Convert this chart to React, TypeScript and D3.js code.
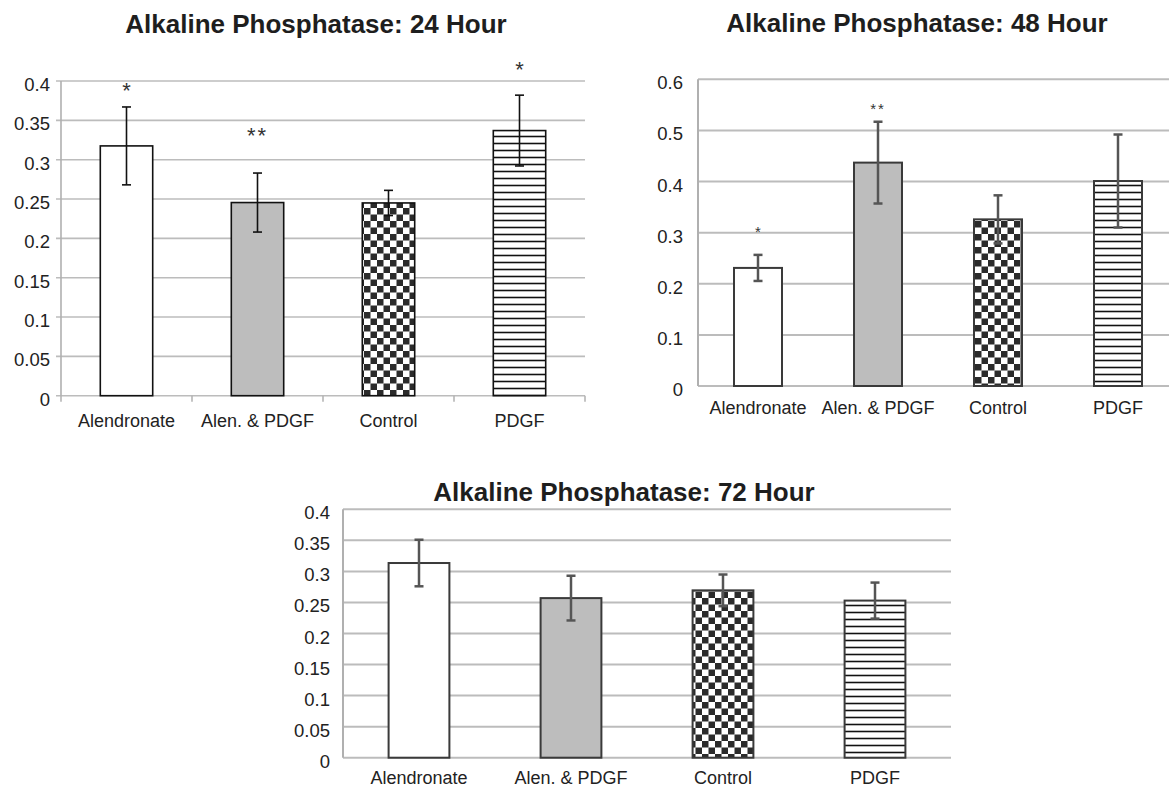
import React, { useEffect, useRef } from "react";
import * as d3 from "d3";

const categories = ["Alendronate", "Alen. & PDGF", "Control", "PDGF"];
const fills = ["white", "#bdbdbd", "url(#checker)", "url(#stripes)"];

const mean24 = [0.3175, 0.2455, 0.245, 0.337];
const err24 = [0.0495, 0.0375, 0.016, 0.045];
const stars24 = ["*", "**", "", "*"];
const starY24 = [0.394, 0.337, 0, 0.421];
const ticks24 = [0, 0.05, 0.1, 0.15, 0.2, 0.25, 0.3, 0.35, 0.4];

const mean48 = [0.231, 0.437, 0.326, 0.401];
const err48 = [0.0255, 0.08, 0.047, 0.091];
const stars48 = ["*", "**", "", ""];
const starY48 = [0.308, 0.549, 0, 0];
const ticks48 = [0, 0.1, 0.2, 0.3, 0.4, 0.5, 0.6];

const mean72 = [0.3135, 0.257, 0.2695, 0.253];
const err72 = [0.0375, 0.036, 0.0255, 0.029];
const ticks72 = [0, 0.05, 0.1, 0.15, 0.2, 0.25, 0.3, 0.35, 0.4];

const FONT = "'Liberation Sans', Arial, Helvetica, sans-serif";

const panels = [
  {
    title: "Alkaline Phosphatase: 24 Hour",
    titleX: 316, titleY: 33,
    left: 61, right: 585, top: 81, bottom: 395.7,
    ticks: ticks24, means: mean24, errs: err24, stars: stars24, starY: starY24,
    labelGap: 11, xLabelGap: 31, barStroke: "#111", barWidth: 1.6,
    errColor: "#111", errWidth: 1.6, gridWidth: 1.6, axisTicks: true, starSize: 22,
  },
  {
    title: "Alkaline Phosphatase: 48 Hour",
    titleX: 917, titleY: 32,
    left: 698, right: 1178, top: 79.3, bottom: 386,
    ticks: ticks48, means: mean48, errs: err48, stars: stars48, starY: starY48,
    labelGap: 15, xLabelGap: 28, barStroke: "#3a3a3a", barWidth: 2,
    errColor: "#555", errWidth: 2.5, gridWidth: 2, axisTicks: false, starSize: 15,
  },
  {
    title: "Alkaline Phosphatase: 72 Hour",
    titleX: 624, titleY: 501,
    left: 343, right: 951, top: 509.3, bottom: 757.7,
    ticks: ticks72, means: mean72, errs: err72, stars: ["", "", "", ""], starY: [0, 0, 0, 0],
    labelGap: 13, xLabelGap: 26.5, barStroke: "#3a3a3a", barWidth: 2,
    errColor: "#555", errWidth: 2.5, gridWidth: 2, axisTicks: false, starSize: 15,
  },
];

const App = () => {
  const ref = useRef(null);

  useEffect(() => {
    const svg = d3.select(ref.current);
    svg.selectAll("*").remove();

    const defs = svg.append("defs");
    const checker = defs
      .append("pattern")
      .attr("id", "checker")
      .attr("patternUnits", "userSpaceOnUse")
      .attr("width", 13)
      .attr("height", 13);
    checker.append("rect").attr("width", 13).attr("height", 13).attr("fill", "white");
    checker.append("rect").attr("width", 6.5).attr("height", 6.5).attr("fill", "#2b2b2b");
    checker.append("rect").attr("x", 6.5).attr("y", 6.5).attr("width", 6.5).attr("height", 6.5).attr("fill", "#2b2b2b");

    const stripes = defs
      .append("pattern")
      .attr("id", "stripes")
      .attr("patternUnits", "userSpaceOnUse")
      .attr("width", 10)
      .attr("height", 7);
    stripes.append("rect").attr("width", 10).attr("height", 7).attr("fill", "white");
    stripes.append("line").attr("x1", 0).attr("x2", 10).attr("y1", 3.5).attr("y2", 3.5)
      .attr("stroke", "#111").attr("stroke-width", 1.6);

    svg.append("rect").attr("width", 1169).attr("height", 789).attr("fill", "white");

    panels.forEach((p) => {
      const g = svg.append("g");
      const yMax = p.ticks[p.ticks.length - 1];
      const y = d3.scaleLinear().domain([0, yMax]).range([p.bottom, p.top]);
      const x = d3.scaleBand().domain(categories).range([p.left, p.right])
        .paddingInner(0.6).paddingOuter(0.3);

      // gridlines
      g.selectAll(".grid")
        .data(p.ticks)
        .enter()
        .append("line")
        .attr("x1", p.axisTicks ? p.left - 5 : p.left)
        .attr("x2", p.right)
        .attr("y1", (d) => y(d))
        .attr("y2", (d) => y(d))
        .attr("stroke", "#bcbcbc")
        .attr("stroke-width", p.gridWidth);

      // y axis line
      g.append("line")
        .attr("x1", p.left).attr("x2", p.left)
        .attr("y1", y(yMax)).attr("y2", y(0))
        .attr("stroke", "#b0b0b0").attr("stroke-width", p.gridWidth);

      if (p.axisTicks) {
        const bounds = d3.range(categories.length + 1).map((i) => p.left + i * x.step());
        g.selectAll(".xtick")
          .data(bounds)
          .enter()
          .append("line")
          .attr("x1", (d) => d).attr("x2", (d) => d)
          .attr("y1", y(0)).attr("y2", y(0) + 6)
          .attr("stroke", "#b0b0b0").attr("stroke-width", 1.5);
      }

      // y tick labels
      g.selectAll(".ylab")
        .data(p.ticks)
        .enter()
        .append("text")
        .attr("x", p.left - p.labelGap)
        .attr("y", (d) => y(d) + 10)
        .attr("text-anchor", "end")
        .attr("font-family", FONT)
        .attr("font-size", 18.5)
        .attr("fill", "#222")
        .text((d) => String(+d.toFixed(2)));

      // x labels
      g.selectAll(".xlab")
        .data(categories)
        .enter()
        .append("text")
        .attr("x", (d) => x(d) + x.bandwidth() / 2)
        .attr("y", y(0) + p.xLabelGap)
        .attr("text-anchor", "middle")
        .attr("font-family", FONT)
        .attr("font-size", 18)
        .attr("fill", "#222")
        .text((d) => d);

      // bars
      g.selectAll(".bar")
        .data(categories)
        .enter()
        .append("rect")
        .attr("x", (d) => x(d))
        .attr("y", (d, i) => y(p.means[i]))
        .attr("width", x.bandwidth())
        .attr("height", (d, i) => y(0) - y(p.means[i]))
        .attr("fill", (d, i) => fills[i])
        .attr("stroke", p.barStroke)
        .attr("stroke-width", p.barWidth);

      // error bars
      categories.forEach((c, i) => {
        const cx = x(c) + x.bandwidth() / 2;
        const hi = y(p.means[i] + p.errs[i]);
        const lo = y(p.means[i] - p.errs[i]);
        const eg = g.append("g").attr("stroke", p.errColor).attr("stroke-width", p.errWidth);
        eg.append("line").attr("x1", cx).attr("x2", cx).attr("y1", hi).attr("y2", lo);
        eg.append("line").attr("x1", cx - 4.5).attr("x2", cx + 4.5).attr("y1", hi).attr("y2", hi);
        eg.append("line").attr("x1", cx - 4.5).attr("x2", cx + 4.5).attr("y1", lo).attr("y2", lo);

        if (p.stars[i]) {
          g.append("text")
            .attr("x", cx)
            .attr("y", y(p.starY[i]) + p.starSize * 0.55)
            .attr("text-anchor", "middle")
            .attr("font-family", FONT)
            .attr("font-size", p.starSize)
            .attr("letter-spacing", p.stars[i].length > 1 ? 2 : 0)
            .attr("fill", "#333")
            .text(p.stars[i]);
        }
      });

      // title
      g.append("text")
        .attr("x", p.titleX)
        .attr("y", p.titleY)
        .attr("text-anchor", "middle")
        .attr("font-family", FONT)
        .attr("font-weight", "bold")
        .attr("font-size", 26)
        .attr("fill", "#1e1e1e")
        .text(p.title);
    });
  }, []);

  return (
    <svg
      ref={ref}
      width={1169}
      height={789}
      style={{ position: "absolute", left: 0, top: 0 }}
    />
  );
};

export default App;
